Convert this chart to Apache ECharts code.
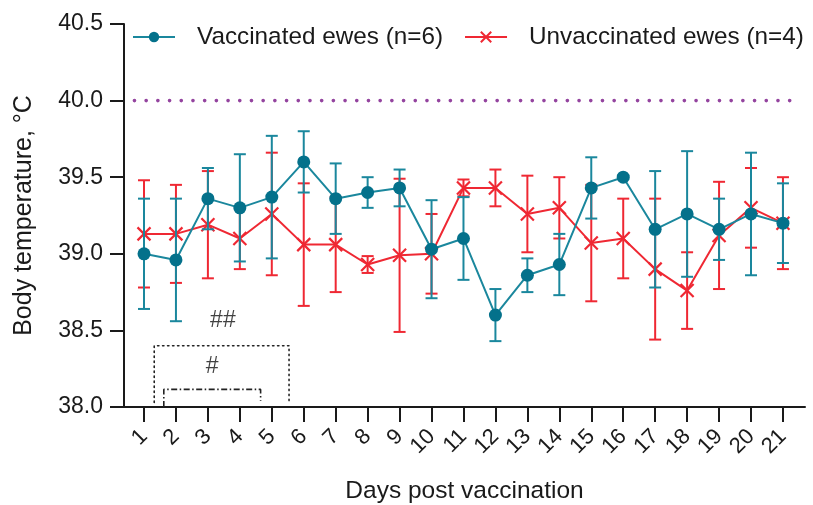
<!DOCTYPE html>
<html>
<head>
<meta charset="utf-8">
<script src="https://cdn.jsdelivr.net/npm/echarts@6/dist/echarts.min.js"></script>
<style>
html,body{margin:0;padding:0;background:#fff;}
#chart{width:813px;height:505px;}
</style>
</head>
<body>
<div id="chart"></div>
<script>
// ---- data ----
const days = [1,2,3,4,5,6,7,8,9,10,11,12,13,14,15,16,17,18,19,20,21];
const vaccMean = [39.00,38.96,39.36,39.30,39.37,39.60,39.36,39.40,39.43,39.03,39.10,38.60,38.86,38.93,39.43,39.50,39.16,39.26,39.16,39.26,39.20];
const vaccSD   = [0.36,0.40,0.20,0.35,0.40,0.20,0.23,0.10,0.12,0.32,0.27,0.17,0.11,0.20,0.20,0.01,0.38,0.41,0.20,0.40,0.26];
const unvMean  = [39.13,39.13,39.19,39.10,39.26,39.06,39.06,38.93,38.99,39.00,39.43,39.43,39.26,39.30,39.07,39.10,38.90,38.76,39.12,39.30,39.20];
const unvSD    = [0.35,0.32,0.35,0.20,0.40,0.40,0.31,0.055,0.50,0.26,0.055,0.12,0.25,0.20,0.38,0.26,0.46,0.25,0.35,0.26,0.30];
const yTicks = [38.0,38.5,39.0,39.5,40.0,40.5];
const refTemp = 40.0;
const refSpan = [0.70, 21.30];
const seriesNames = ['Vaccinated ewes (n=6)', 'Unvaccinated ewes (n=4)'];
// annotation brackets (data coordinates)
const bracketOuter = [[1.32,38.03],[1.32,38.40],[5.54,38.40],[5.54,38.03]];
const bracketInner = [[1.62,38.0],[1.62,38.115],[4.65,38.115],[4.65,38.04]];
const annotLabels = [{text:'##', x:3.47, y:38.565},{text:'#', x:3.13, y:38.265}];

const TEAL_LINE = '#1a879d', TEAL_DOT = '#04718b', RED = '#ef2833', PURPLE = '#94449f';
const FONT = 'Liberation Sans, Arial, sans-serif';

function errSeries(means, sds, color, z){
  return {
    type:'custom', z:z, silent:true,
    data: days.map((d,i)=>[d, means[i]-sds[i], means[i]+sds[i]]),
    renderItem:function(params, api){
      const x = api.value(0);
      const lo = api.coord([x, api.value(1)]);
      const hi = api.coord([x, api.value(2)]);
      const w = 6;
      const st = {stroke:color, lineWidth:2};
      return {type:'group', children:[
        {type:'line', shape:{x1:lo[0],y1:lo[1],x2:hi[0],y2:hi[1]}, style:st},
        {type:'line', shape:{x1:lo[0]-w,y1:lo[1],x2:lo[0]+w,y2:lo[1]}, style:st},
        {type:'line', shape:{x1:hi[0]-w,y1:hi[1],x2:hi[0]+w,y2:hi[1]}, style:st}
      ]};
    }
  };
}

const chart = echarts.init(document.getElementById('chart'), null, {renderer:'canvas'});
const option = {
  animation:false,
  backgroundColor:'#fff',
  textStyle:{fontFamily:FONT},
  grid:{left:124, right:8, top:24, bottom:98, containLabel:false, outerBoundsMode:'none'},
  legend:{
    data:[seriesNames[0], seriesNames[1]],
    left:127, top:20, width:760, itemWidth:42, itemHeight:13, itemGap:21,
    textStyle:{fontFamily:FONT, fontSize:24.3, color:'#1a1a1a', padding:[0,0,0,17]}
  },
  xAxis:{
    type:'value', min:0.374, max:21.69,
    name:'Days post vaccination', nameLocation:'middle', nameGap:72,
    nameTextStyle:{fontFamily:FONT, fontSize:24.5, color:'#1a1a1a'},
    axisLine:{onZero:false, lineStyle:{color:'#1a1a1a', width:2}},
    axisTick:{customValues:days, length:15, lineStyle:{color:'#1a1a1a', width:2}},
    axisLabel:{customValues:days, rotate:45, margin:26, fontFamily:FONT, fontSize:22, color:'#1a1a1a'},
    splitLine:{show:false}
  },
  yAxis:{
    type:'value', min:38, max:40.5, interval:0.5,
    name:'Body temperature, °C', nameLocation:'middle', nameGap:87,
    nameTextStyle:{fontFamily:FONT, fontSize:25, color:'#1a1a1a'},
    axisLine:{show:true, lineStyle:{color:'#1a1a1a', width:2}},
    axisTick:{show:true, length:14, lineStyle:{color:'#1a1a1a', width:2}},
    axisLabel:{customValues:yTicks, margin:21, fontFamily:FONT, fontSize:23, color:'#1a1a1a', formatter:v=>v.toFixed(1)},
    splitLine:{show:false}
  },
  series:[
    {
      name:'ref', type:'line', z:1, silent:true, symbol:'none',
      data:[[refSpan[0], refTemp],[refSpan[1], refTemp]],
      lineStyle:{color:PURPLE, width:3.6, type:[0.1, 11.6], cap:'round'}
    },
    {
      name:'bracketOuter', type:'line', z:1, silent:true, symbol:'none',
      data:bracketOuter,
      lineStyle:{color:'#222', width:1.6, type:[1.4, 3.6], cap:'round'}
    },
    {
      name:'bracketInner', type:'line', z:1, silent:true, symbol:'none',
      data:bracketInner,
      lineStyle:{color:'#222', width:1.6, type:[6, 2.5, 1.5, 2.5]}
    },
    {
      name:'annot', type:'scatter', z:1, silent:true, symbolSize:0,
      data:annotLabels.map(a=>({value:[a.x,a.y], label:{formatter:a.text}})),
      label:{show:true, position:'inside', fontFamily:FONT, fontSize:23, color:'#111'}
    },
    errSeries(unvMean, unvSD, RED, 2),
    {
      name:seriesNames[1], type:'line', z:3,
      data:days.map((d,i)=>[d, unvMean[i]]),
      symbol:'path://M0,0L10,10M10,0L0,10', symbolSize:13,
      itemStyle:{color:RED, borderColor:RED, borderWidth:2.2},
      lineStyle:{color:RED, width:2}
    },
    errSeries(vaccMean, vaccSD, TEAL_LINE, 4),
    {
      name:seriesNames[0], type:'line', z:5,
      data:days.map((d,i)=>[d, vaccMean[i]]),
      symbol:'circle', symbolSize:13,
      itemStyle:{color:TEAL_DOT},
      lineStyle:{color:TEAL_LINE, width:2}
    }
  ]
};
chart.setOption(option);
</script>
</body>
</html>
